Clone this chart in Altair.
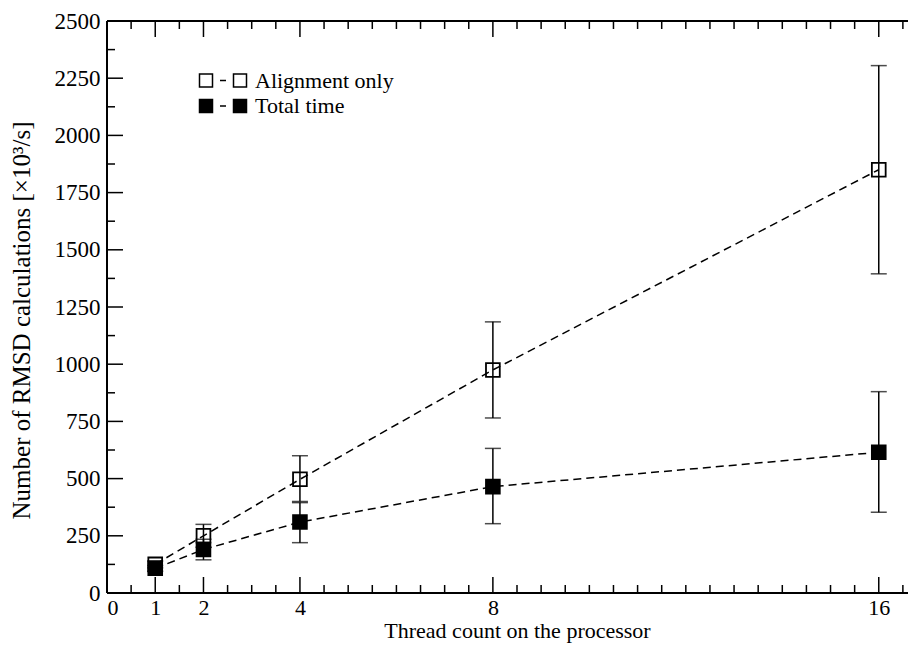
import altair as alt
import pandas as pd

# ---- data ----
threads = [1, 2, 4, 8, 16]
series_names = ["Alignment only", "Total time"]
align_y = [125, 250, 497, 975, 1850]
align_lo = [110, 200, 400, 765, 1395]
align_hi = [140, 300, 600, 1185, 2305]
total_y = [108, 190, 310, 465, 615]
total_lo = [95, 145, 220, 303, 353]
total_hi = [120, 235, 395, 632, 880]

x_domain = [0, 17]
y_domain = [0, 2500]
x_tick_labels = [0, 1, 2, 4, 8, 16]
y_tick_labels = [0, 250, 500, 750, 1000, 1250, 1500, 1750, 2000, 2250, 2500]
x_major_ticks = [1, 2, 4, 8, 16]
x_minor_ticks = [0.5, 1.5, 2.5, 3, 3.5, 4.5, 5, 5.5, 6, 6.5, 7, 7.5, 8.5, 9, 9.5,
                 10, 10.5, 11, 11.5, 12, 12.5, 13, 13.5, 14, 14.5, 15, 15.5, 16.5]
y_major_ticks = [250, 500, 750, 1000, 1250, 1500, 1750, 2000, 2250]
y_minor_ticks = [125, 375, 625, 875, 1125, 1375, 1625, 1875, 2125, 2375]

W, H = 820, 572
FONT = "Liberation Serif"

rows = []
for name, ys, los, his in [(series_names[0], align_y, align_lo, align_hi),
                           (series_names[1], total_y, total_lo, total_hi)]:
    for t, v, lo, hi in zip(threads, ys, los, his):
        rows.append({"series": name, "x": t, "y": v, "lo": lo, "hi": hi})
df = pd.DataFrame(rows)

xs = alt.Scale(domain=x_domain, nice=False, zero=False)
ys_ = alt.Scale(domain=y_domain, nice=False)
x_axis = alt.Axis(values=x_tick_labels, title="Thread count on the processor",
                  labelPadding=4, titlePadding=2, format="d",
                  labelFontSize=22, titleFontSize=22)
y_axis = alt.Axis(values=y_tick_labels, title="Number of RMSD calculations [×10³/s]",
                  labelPadding=7, titlePadding=20, format="d",
                  labelFontSize=23, titleFontSize=25, titleY=299)

def X(field):
    return alt.X(field, type="quantitative", scale=xs, axis=x_axis)

def Y(field):
    return alt.Y(field, type="quantitative", scale=ys_, axis=y_axis)

# frame (left, bottom, top); the right edge lies outside the cropped picture
frame_x = pd.DataFrame({"a": [x_domain[0]], "b": [x_domain[1]]})
frame_y = pd.DataFrame({"a": [y_domain[0]], "b": [y_domain[1]]})
frame_bottom = alt.Chart(frame_x).mark_rule(color="black", strokeWidth=2).encode(
    x=X("a"), x2="b", y=alt.value(H))
frame_top = alt.Chart(frame_x).mark_rule(color="black", strokeWidth=2).encode(
    x=X("a"), x2="b", y=alt.value(0))
frame_left = alt.Chart(frame_y).mark_rule(color="black", strokeWidth=2).encode(
    y=Y("a"), y2="b", x=alt.value(0))

lines = alt.Chart(df).mark_line(color="black", strokeWidth=1.5, strokeDash=[8, 5]).encode(
    x=X("x"), y=Y("y"), detail="series:N")

err = alt.Chart(df).mark_rule(color="black", strokeWidth=1.5).encode(
    x=X("x"), y=Y("lo"), y2="hi")
cap_lo = alt.Chart(df).mark_tick(color="black", orient="horizontal", size=16, thickness=1.5).encode(
    x=X("x"), y=Y("lo"))
cap_hi = alt.Chart(df).mark_tick(color="black", orient="horizontal", size=16, thickness=1.5).encode(
    x=X("x"), y=Y("hi"))

legend_path = ("M-2.9375,-0.8125H-1.3125V0.8125H-2.9375Z "
               "M1.3125,-0.8125H2.9375V0.8125H1.3125Z M-0.375,0H0.375")

points = alt.Chart(df).mark_point(shape="square", size=190, stroke="black",
                                  strokeWidth=1.8, filled=False, opacity=1).encode(
    x=X("x"), y=Y("y"),
    fill=alt.Fill("series:N",
                  scale=alt.Scale(domain=series_names, range=["transparent", "black"]),
                  legend=alt.Legend(orient="none", legendX=105, legendY=48.5, title=None,
                                    labelFont=FONT, labelFontSize=22, labelColor="black",
                                    symbolType=legend_path, symbolSize=256,
                                    symbolStrokeColor="black", symbolStrokeWidth=1.5,
                                    labelOffset=21, rowPadding=3.5, padding=0)),
)

def tick_layer(values, field_is_x, length, side):
    d = pd.DataFrame({"v": values})
    c = alt.Chart(d).mark_rule(color="black", strokeWidth=1.5)
    if field_is_x:
        if side == "bottom":
            return c.encode(x=X("v"), y=alt.value(H), y2=alt.value(H - length))
        return c.encode(x=X("v"), y=alt.value(0), y2=alt.value(length))
    return c.encode(y=Y("v"), x=alt.value(0), x2=alt.value(length))

ticks = [
    tick_layer(x_major_ticks, True, 16, "bottom"),
    tick_layer(x_minor_ticks, True, 8, "bottom"),
    tick_layer(x_major_ticks, True, 16, "top"),
    tick_layer(x_minor_ticks, True, 8, "top"),
    tick_layer(y_major_ticks, False, 16, "left"),
    tick_layer(y_minor_ticks, False, 8, "left"),
]

chart = alt.layer(frame_bottom, frame_top, frame_left, *ticks, lines, err,
                  cap_lo, cap_hi, points).properties(
    width=W, height=H,
    padding={"left": 99, "top": 13, "right": -19, "bottom": 53},
    autosize=alt.AutoSizeParams(type="none"),
).configure_view(strokeWidth=0, stroke="transparent").configure_axis(
    labelFont=FONT, labelColor="black",
    titleFont=FONT, titleFontWeight="normal", titleColor="black",
    grid=False, ticks=False, domain=False, tickSize=0,
)

chart.save("out.html", embed_options={"renderer": "svg", "actions": False})
